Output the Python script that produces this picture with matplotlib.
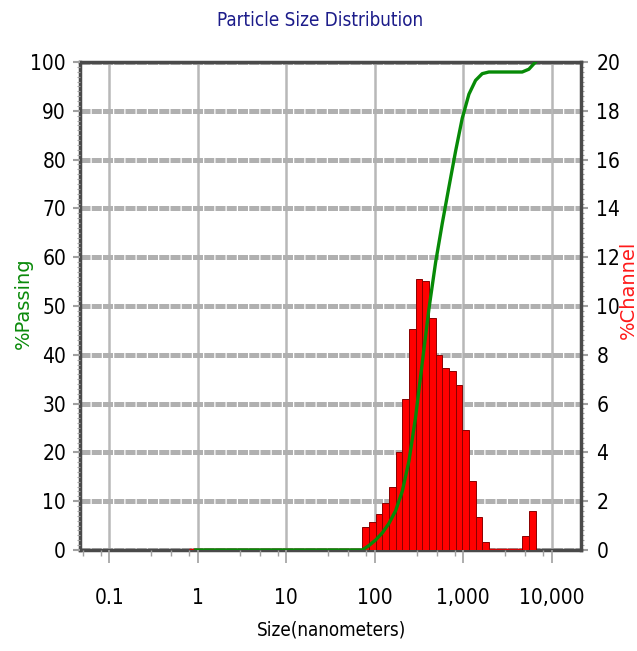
import numpy as np
import matplotlib.pyplot as plt
from matplotlib.ticker import LogLocator, NullFormatter, MultipleLocator

# -------------------------------------------------
# Data (Nanotrac style channels, nm)
# -------------------------------------------------

# channel edges in nanometers (lower edge of first .. upper edge of last)
channel_edges = [0.800, 0.951, 1.131, 1.345, 1.600, 1.903, 2.262, 2.690, 3.199,
                 3.805, 4.525, 5.381, 6.400, 7.611, 9.051, 10.76, 12.80, 15.22,
                 18.10, 21.53, 25.60, 30.44, 36.20, 43.05, 51.20, 60.89, 72.41,
                 86.11, 102.4, 121.8, 144.8, 172.2, 204.8, 243.5, 289.6, 344.4,
                 409.6, 487.1, 579.2, 688.8, 819.2, 974.2, 1159, 1378, 1638,
                 1948, 2317, 2755, 3277, 3896, 4634, 5511, 6554]

# % in each channel (right axis)
pct_channel = [0, 0, 0, 0, 0, 0, 0, 0, 0, 0, 0, 0, 0, 0, 0, 0, 0, 0, 0, 0,
               0, 0, 0, 0, 0, 0,
               0.93, 1.13, 1.46, 1.94, 2.60, 4.00, 6.18, 9.07, 11.10, 11.02,
               9.52, 7.99, 7.45, 7.34, 6.75, 4.92, 2.84, 1.37, 0.34,
               0, 0, 0, 0, 0,
               0.57, 1.61]

# cumulative % passing at the upper edge of each channel (left axis)
pct_passing = [0, 0, 0, 0, 0, 0, 0, 0, 0, 0, 0, 0, 0, 0, 0, 0, 0, 0, 0, 0,
               0, 0, 0, 0, 0, 0,
               0.93, 2.06, 3.52, 5.46, 8.06, 12.06, 18.24, 27.31, 38.41, 49.43,
               58.95, 66.94, 74.39, 81.73, 88.48, 93.40, 96.24, 97.61, 97.95,
               97.95, 97.95, 97.95, 97.95, 97.95,
               98.52, 100.0]

x_ticks = [0.1, 1, 10, 100, 1000, 10000]
x_tick_labels = ['0.1', '1', '10', '100', '1,000', '10,000']
left_ticks = list(range(0, 101, 10))
right_ticks = list(range(0, 21, 2))

# -------------------------------------------------
# Figure
# -------------------------------------------------
plt.rcParams['font.family'] = ['DejaVu Sans']
num_font = dict(family='DejaVu Sans', stretch='condensed', size=15)

fig = plt.figure(figsize=(6.37, 6.51), dpi=100)
ax = fig.add_axes([80 / 637, 1 - 550 / 651, 501 / 637, 488 / 651])
ax2 = ax.twinx()

# bars + grid live on ax2 (lower layer), green curve on ax (upper layer)
ax.set_zorder(2)
ax2.set_zorder(1)
ax.patch.set_visible(False)
ax2.patch.set_facecolor('white')

edges = np.array(channel_edges)
lows = edges[:-1]
widths = edges[1:] - edges[:-1]
vals = np.array(pct_channel)
edge_cols = ['#e00000' if v == 0 else '#8a0000' for v in vals]
lws = [2.5 if v == 0 else 0.7 for v in vals]
ax2.bar(lows, vals, width=widths, align='edge', color='#ff0000',
        edgecolor=edge_cols, linewidth=lws, zorder=3)

ax.plot(edges[1:], pct_passing, color='#078a07', linewidth=2.4,
        solid_joinstyle='round', zorder=4)

ax.set_xscale('log')
ax.set_xlim(0.0467, 21400)
ax.set_ylim(0, 100)
ax2.set_ylim(0, 20)

# grid on lower axis
ax2.xaxis.set_visible(True)
ax2.set_axisbelow(True)
ax2.set_xticks(x_ticks)
ax2.tick_params(axis='x', which='both', bottom=False, top=False,
                labelbottom=False, labeltop=False)
ax2.grid(axis='x', which='major', color='#b8b8b8', linewidth=1.8)
ax2.grid(axis='y', which='major', color='#b0b0b0', linewidth=3.6,
         linestyle=(0, (2.0, 0.25)))

# spines on ax2 so the bars can sit over them
for s in ax.spines.values():
    s.set_visible(False)
for s in ax2.spines.values():
    s.set_color('#4a4a4a')
    s.set_linewidth(2.5)
    s.set_zorder(2.5)

# x axis ticks
ax.set_xticks(x_ticks)
ax.set_xticklabels(x_tick_labels, fontdict=num_font)
ax.xaxis.set_minor_locator(LogLocator(base=10, subs=[3, 5, 8], numticks=20))
ax.xaxis.set_minor_formatter(NullFormatter())
ax.tick_params(axis='x', which='major', length=9, width=1.2, color='#a0a0a0',
               pad=18)
ax.tick_params(axis='x', which='minor', length=4, width=1, color='#a0a0a0')

# left axis
ax.set_yticks(left_ticks)
ax.set_yticklabels([str(t) for t in left_ticks], fontdict=num_font)
ax.yaxis.set_minor_locator(MultipleLocator(1))
ax.tick_params(axis='y', which='major', length=5, width=1.5, color='#a0a0a0', pad=5)
ax.tick_params(axis='y', which='minor', length=2.5, width=0.8, color='#a0a0a0')

# right axis
ax2.set_yticks(right_ticks)
ax2.set_yticklabels([str(t) for t in right_ticks], fontdict=num_font)
ax2.yaxis.set_minor_locator(MultipleLocator(0.2))
ax2.tick_params(axis='y', which='major', length=5, width=1.5, color='#a0a0a0', pad=6)
ax2.tick_params(axis='y', which='minor', length=2.5, width=0.8, color='#a0a0a0')

# labels
fig.text(320 / 637, 1 - 20 / 651, 'Particle Size Distribution', ha='center',
         va='center', fontsize=13.5, color='#1c1c8a', family='DejaVu Sans',
         stretch='condensed')
fig.text(331 / 637, 1 - 630 / 651, 'Size(nanometers)', ha='center', va='center',
         color='black', family='DejaVu Sans', stretch='condensed', fontsize=13.5)
fig.text(23 / 637, 1 - 303 / 651, '%Passing', rotation=90, ha='center',
         va='center', fontsize=14, color='#0a8a0a')
fig.text(628 / 637, 1 - 290 / 651, '%Channel', rotation=90, ha='center',
         va='center', fontsize=14, color='#ff1a1a')

fig.savefig('out.png', dpi=100)
